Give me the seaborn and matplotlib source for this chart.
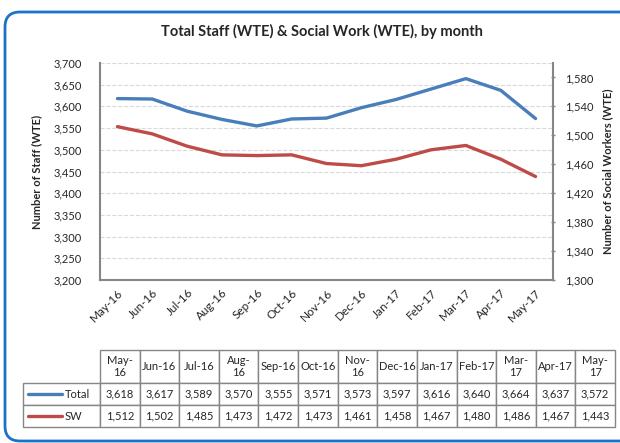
import matplotlib
matplotlib.use("Agg")
import matplotlib.pyplot as plt
import seaborn as sns
import pandas as pd
import numpy as np
from matplotlib.patches import FancyBboxPatch
from matplotlib.lines import Line2D
from matplotlib.ticker import FuncFormatter, MultipleLocator

months = ["May-16", "Jun-16", "Jul-16", "Aug-16", "Sep-16", "Oct-16", "Nov-16",
          "Dec-16", "Jan-17", "Feb-17", "Mar-17", "Apr-17", "May-17"]
total = [3618, 3617, 3589, 3570, 3555, 3571, 3573, 3597, 3616, 3640, 3664, 3637, 3572]
sw = [1512, 1502, 1485, 1473, 1472, 1473, 1461, 1458, 1467, 1480, 1486, 1467, 1443]
# header cells that wrap onto two lines in the data table
wrapped = ["May-16", "Aug-16", "Nov-16", "Mar-17", "May-17"]

BLUE = "#4A7EBB"
RED = "#BE4B48"
GREY = "#868686"

sns.set_style("white")
plt.rcParams["font.family"] = ["Lato", "DejaVu Sans"]

fig = plt.figure(figsize=(6.2, 4.43), dpi=100)
ax = fig.add_axes([100 / 620, 1 - 280 / 443, 453 / 620, 217 / 443])

df = pd.DataFrame({"x": range(len(months)), "Total": total, "SW": sw})
sns.lineplot(data=df, x="x", y="Total", ax=ax, color=BLUE, lw=2.4)
ax2 = ax.twinx()
sns.lineplot(data=df, x="x", y="SW", ax=ax2, color=RED, lw=2.4)

fmt = FuncFormatter(lambda v, p: f"{v:,.0f}")
ax.set_xlim(-0.5, len(months) - 0.5)
ax.set_ylim(3200, 3700)
ax.yaxis.set_major_locator(MultipleLocator(50))
ax.yaxis.set_major_formatter(fmt)
ax2.set_ylim(1300, 1600)
ax2.set_yticks(np.arange(1300, 1581, 40))
ax2.yaxis.set_major_formatter(fmt)

ax.grid(axis="y", color="#D9D9D9", ls="--", lw=0.8)
ax.set_xticks(range(len(months)))
ax.set_xticklabels(months, rotation=45, ha="right", rotation_mode="anchor")
ax.tick_params(axis="x", length=0, labelsize=8.5, pad=5)
ax.tick_params(axis="y", length=0, labelsize=8, pad=13)
ax2.tick_params(axis="y", length=3, width=1, color=GREY, labelsize=8, pad=7,
                direction="inout")

for a in (ax, ax2):
    a.spines["top"].set_visible(False)
    for s in ("left", "right", "bottom"):
        a.spines[s].set_color(GREY)
        a.spines[s].set_linewidth(1.5)
ax.spines["right"].set_visible(False)
ax2.spines["left"].set_visible(False)
ax2.spines["bottom"].set_visible(False)

ax.set_xlabel("")
ax.set_ylabel("Number of Staff (WTE)", fontsize=8, fontweight="bold")
ax.yaxis.set_label_coords(-0.128, 0.5)
ax2.set_ylabel("Number of Social Workers (WTE)", fontsize=8, fontweight="bold")
ax2.yaxis.set_label_coords(1.108, 0.5)

fig.text(0.519, 0.928, "Total Staff (WTE) & Social Work (WTE), by month",
         ha="center", va="center", fontsize=10.5, fontweight="bold")

# data table under the chart
tax = fig.add_axes([23 / 620, 1 - 427 / 443, 592 / 620, 77 / 443])
tax.axis("off")
headers = [m.replace("-", "-\n") if m in wrapped else m for m in months]
cells = [[f"{v:,}" for v in total], [f"{v:,}" for v in sw]]
label_w = 77 / 592
table = tax.table(cellText=cells, rowLabels=["Total", "SW"], colLabels=headers,
                  colWidths=[(1 - label_w) / len(months)] * len(months),
                  cellLoc="center", rowLoc="left",
                  bbox=[label_w, 0, 1 - label_w, 1])
table._autoColumns = []
table.auto_set_font_size(False)
table.set_fontsize(8)
for (r, c), cell in table.get_celld().items():
    cell.set_edgecolor(GREY)
    cell.set_linewidth(1)
    cell.set_height(33 if r == 0 else 22)
    if c == -1:
        cell.set_width(label_w)
        cell.get_text().set_horizontalalignment("left")
        cell.PAD = 0.54

fig.canvas.draw()
for r, color in ((1, BLUE), (2, RED)):
    cell = table[(r, -1)]
    x0, y0, w, h = cell.get_x(), cell.get_y(), cell.get_width(), cell.get_height()
    tax.add_line(Line2D([x0 + 0.06 * w, x0 + 0.5 * w], [y0 + h / 2] * 2,
                        transform=tax.transAxes, color=color, lw=2.4,
                        solid_capstyle="round", clip_on=False))

frame = FancyBboxPatch((0.05, 0.02), 7.0, 4.29,
                       boxstyle="round,pad=0,rounding_size=0.15",
                       transform=fig.dpi_scale_trans, fill=False,
                       edgecolor="#1B73C7", lw=2)
fig.patches.append(frame)

fig.savefig("out.png", dpi=100)
